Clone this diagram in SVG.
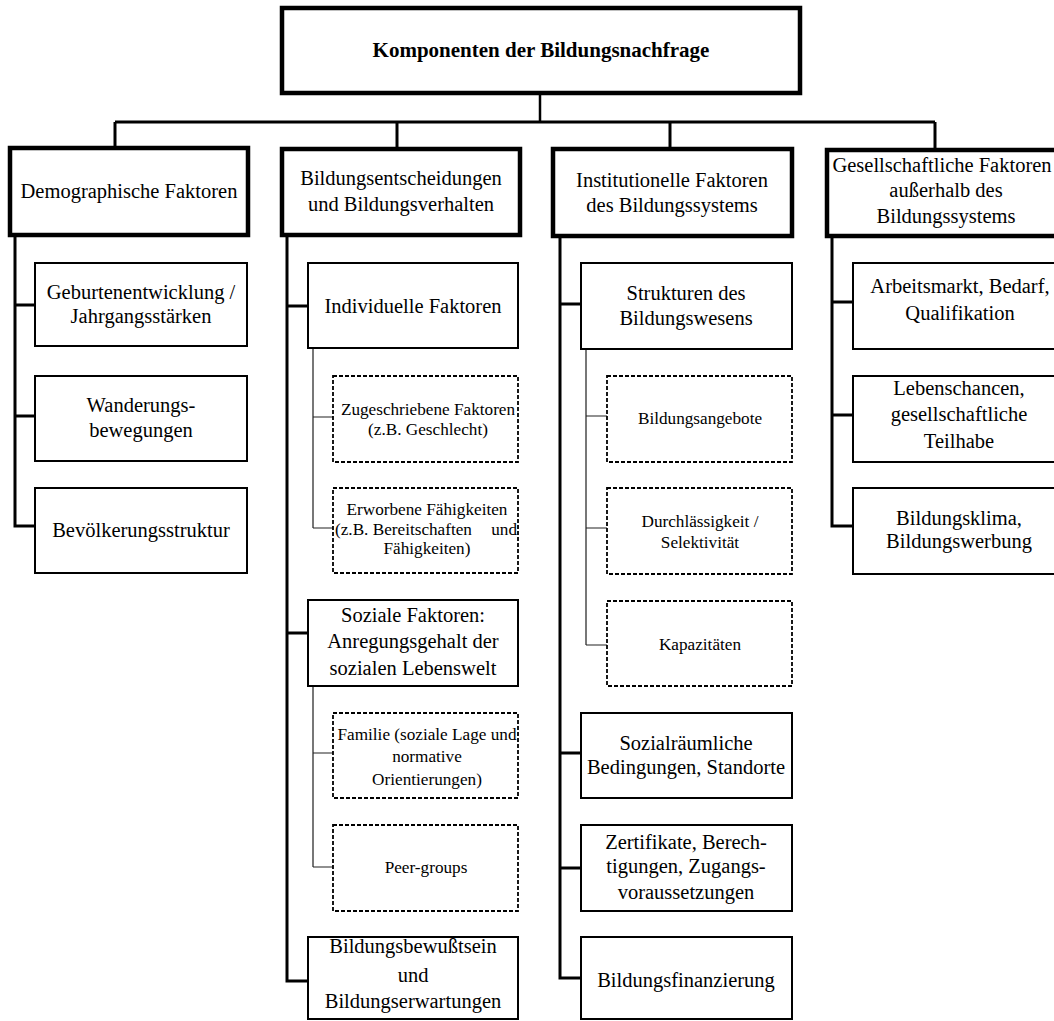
<svg xmlns="http://www.w3.org/2000/svg" width="1054" height="1021" viewBox="0 0 1054 1021">
<style>
  .top { fill: #fff; stroke: #000; stroke-width: 4.5; }
  .hdr { fill: #fff; stroke: #000; stroke-width: 4.5; }
  .box { fill: #fff; stroke: #000; stroke-width: 2; }
  .dash { fill: #fff; stroke: #000; stroke-width: 1.8; stroke-dasharray: 4 2; }
  .t { font-family: "Liberation Serif", "Times New Roman", serif; font-size: 20.5px; fill: #000; text-anchor: middle; }
  .s { font-family: "Liberation Serif", "Times New Roman", serif; font-size: 17.2px; fill: #000; text-anchor: middle; }
  .b { font-weight: bold; font-size: 21px; }
  .thick { stroke: #000; stroke-width: 3; fill: none; }
  .mid { stroke: #000; stroke-width: 2.5; fill: none; }
  .sub { stroke: #555; stroke-width: 1.6; fill: none; }
  .subb { stroke: #222; stroke-width: 1.2; fill: none; }
</style>
<rect width="1054" height="1021" fill="#fff"/>

<g id="connectors">
  <line class="mid" x1="540" y1="93" x2="540" y2="122"/>
  <line class="thick" x1="115" y1="122" x2="935" y2="122"/>
  <line class="thick" x1="115" y1="122" x2="115" y2="148"/>
  <line class="thick" x1="397" y1="122" x2="397" y2="148"/>
  <line class="thick" x1="670" y1="122" x2="670" y2="149"/>
  <line class="thick" x1="935" y1="122" x2="935" y2="150"/>
  <path class="thick" d="M15 235 V526 H35 M15 305 H35 M15 416 H35"/>
  <path class="thick" d="M287 235 V981 H308 M287 306 H308 M287 633 H308"/>
  <path class="sub" d="M313 348 V528"/>
  <path class="subb" d="M313 417 H333 M313 528 H333"/>
  <path class="sub" d="M313 686 V867"/>
  <path class="subb" d="M313 753 H333 M313 867 H333"/>
  <path class="thick" d="M560 236 V978 H581 M560 304 H581 M560 753 H581 M560 868 H581"/>
  <path class="sub" d="M586 349 V645"/>
  <path class="subb" d="M586 416 H607 M586 528 H607 M586 645 H607"/>
  <path class="thick" d="M832 236 V526 H853 M832 302 H853 M832 415 H853"/>
</g>

<g id="root">
  <rect class="top" x="282" y="8" width="518" height="85"/>
  <text class="t b" x="541" y="57">Komponenten der Bildungsnachfrage</text>
</g>

<g id="demographische-faktoren">
  <rect class="hdr" x="10" y="148" width="238" height="87"/>
  <text class="t" x="129" y="198">Demographische Faktoren</text>
</g>
<g id="geburtenentwicklung">
  <rect class="box" x="35" y="263" width="212" height="83"/>
  <text class="t" x="141" y="299">Geburtenentwicklung /</text>
  <text class="t" x="141" y="323">Jahrgangsstärken</text>
</g>
<g id="wanderungsbewegungen">
  <rect class="box" x="35" y="376" width="212" height="85"/>
  <text class="t" x="141" y="412">Wanderungs-</text>
  <text class="t" x="141" y="437">bewegungen</text>
</g>
<g id="bevoelkerungsstruktur">
  <rect class="box" x="35" y="488" width="212" height="85"/>
  <text class="t" x="141" y="537">Bevölkerungsstruktur</text>
</g>

<g id="bildungsentscheidungen">
  <rect class="hdr" x="282" y="149" width="238" height="86"/>
  <text class="t" x="401" y="185">Bildungsentscheidungen</text>
  <text class="t" x="401" y="211">und Bildungsverhalten</text>
</g>
<g id="individuelle-faktoren">
  <rect class="box" x="308" y="263" width="210" height="85"/>
  <text class="t" x="413" y="313">Individuelle Faktoren</text>
</g>
<g id="zugeschriebene-faktoren">
  <rect class="dash" x="333" y="376" width="185" height="86"/>
  <text class="s" x="428" y="415">Zugeschriebene Faktoren</text>
  <text class="s" x="428" y="435">(z.B. Geschlecht)</text>
</g>
<g id="erworbene-faehigkeiten">
  <rect class="dash" x="333" y="488" width="185" height="85"/>
  <text class="s" x="427" y="515">Erworbene Fähigkeiten</text>
  <text class="s" y="535"><tspan x="335" style="text-anchor:start">(z.B. Bereitschaften </tspan><tspan x="517" style="text-anchor:end">und</tspan></text>
  <text class="s" x="427" y="554">Fähigkeiten)</text>
</g>
<g id="soziale-faktoren">
  <rect class="box" x="308" y="600" width="210" height="86"/>
  <text class="t" x="413" y="622">Soziale Faktoren:</text>
  <text class="t" x="413" y="648">Anregungsgehalt der</text>
  <text class="t" x="413" y="675">sozialen Lebenswelt</text>
</g>
<g id="familie">
  <rect class="dash" x="333" y="713" width="185" height="85"/>
  <text class="s" x="427" y="740">Familie (soziale Lage und</text>
  <text class="s" x="427" y="762">normative</text>
  <text class="s" x="427" y="785">Orientierungen)</text>
</g>
<g id="peer-groups">
  <rect class="dash" x="333" y="825" width="185" height="86"/>
  <text class="s" x="426" y="873">Peer-groups</text>
</g>
<g id="bildungsbewusstsein">
  <rect class="box" x="308" y="937" width="210" height="82"/>
  <text class="t" x="413" y="953">Bildungsbewußtsein</text>
  <text class="t" x="413" y="982">und</text>
  <text class="t" x="413" y="1008">Bildungserwartungen</text>
</g>

<g id="institutionelle-faktoren">
  <rect class="hdr" x="553" y="149" width="239" height="87"/>
  <text class="t" x="672" y="187">Institutionelle Faktoren</text>
  <text class="t" x="672" y="212">des Bildungssystems</text>
</g>
<g id="strukturen">
  <rect class="box" x="581" y="263" width="211" height="86"/>
  <text class="t" x="686" y="300">Strukturen des</text>
  <text class="t" x="686" y="325">Bildungswesens</text>
</g>
<g id="bildungsangebote">
  <rect class="dash" x="607" y="376" width="185" height="86"/>
  <text class="s" x="700" y="424">Bildungsangebote</text>
</g>
<g id="durchlaessigkeit">
  <rect class="dash" x="607" y="488" width="185" height="86"/>
  <text class="s" x="700" y="527">Durchlässigkeit /</text>
  <text class="s" x="700" y="548">Selektivität</text>
</g>
<g id="kapazitaeten">
  <rect class="dash" x="607" y="601" width="185" height="85"/>
  <text class="s" x="700" y="650">Kapazitäten</text>
</g>
<g id="sozialraeumliche">
  <rect class="box" x="581" y="713" width="211" height="85"/>
  <text class="t" x="686" y="750">Sozialräumliche</text>
  <text class="t" x="686" y="774">Bedingungen, Standorte</text>
</g>
<g id="zertifikate">
  <rect class="box" x="581" y="825" width="211" height="86"/>
  <text class="t" x="686" y="849">Zertifikate, Berech-</text>
  <text class="t" x="686" y="873">tigungen, Zugangs-</text>
  <text class="t" x="686" y="899">voraussetzungen</text>
</g>
<g id="bildungsfinanzierung">
  <rect class="box" x="581" y="937" width="211" height="82"/>
  <text class="t" x="686" y="987">Bildungsfinanzierung</text>
</g>

<g id="gesellschaftliche-faktoren">
  <rect class="hdr" x="827" y="150" width="239" height="86"/>
  <text class="t" x="942" y="172">Gesellschaftliche Faktoren</text>
  <text class="t" x="946" y="197">außerhalb des</text>
  <text class="t" x="946" y="223">Bildungssystems</text>
</g>
<g id="arbeitsmarkt">
  <rect class="box" x="853" y="263" width="211" height="86"/>
  <text class="t" x="960" y="293">Arbeitsmarkt, Bedarf,</text>
  <text class="t" x="960" y="320">Qualifikation</text>
</g>
<g id="lebenschancen">
  <rect class="box" x="853" y="376" width="211" height="86"/>
  <text class="t" x="959" y="395">Lebenschancen,</text>
  <text class="t" x="959" y="421">gesellschaftliche</text>
  <text class="t" x="959" y="448">Teilhabe</text>
</g>
<g id="bildungsklima">
  <rect class="box" x="853" y="488" width="211" height="86"/>
  <text class="t" x="959" y="525">Bildungsklima,</text>
  <text class="t" x="959" y="548">Bildungswerbung</text>
</g>
</svg>
